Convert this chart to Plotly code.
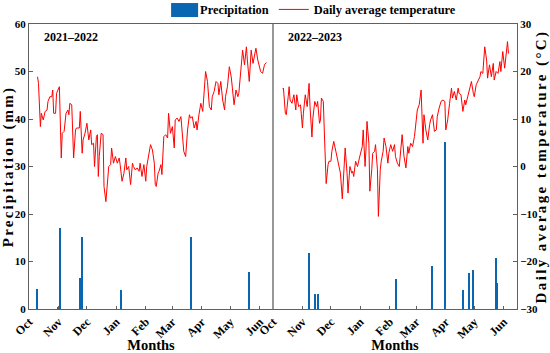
import plotly.graph_objects as go
import pandas as pd

# ---------------- data ----------------
season1_start = "2021-10-01"
season2_start = "2022-10-01"
season_labels = ["2021–2022", "2022–2023"]

# daily average temperature (°C), day offsets from 1 Oct
temp1_day = [9, 10, 12, 13, 15, 17, 19, 20, 22, 24, 25, 26, 28, 29, 32, 34, 35, 37, 39, 41,
             42, 43, 45, 47, 49, 50, 53, 54, 56, 57, 59, 61, 63, 65, 66, 68, 69, 71, 72, 73,
             74, 76, 78, 79, 81, 84, 86, 87, 89, 91, 93, 95, 96, 98, 100, 102, 103, 105, 107, 109,
             110, 112, 114, 116, 117, 119, 121, 123, 124, 126, 128, 130, 132, 133, 134, 136, 137, 139, 140, 142,
             144, 146, 147, 149, 151, 153, 154, 156, 158, 160, 162, 163, 165, 167, 169, 170, 172, 174, 176, 177,
             179, 181, 183, 184, 186, 188, 190, 192, 193, 195, 197, 199, 200, 202, 204, 206, 207, 209, 211, 213,
             214, 216, 218, 220, 221, 223, 225, 227, 229, 230, 232, 234, 236, 237, 239, 241, 243, 244, 246, 248,
             250]
temp1_val = [18.9, 17.5, 8.4, 11.2, 9.8, 11.6, 11.9, 13.7, 14.7, 14.7, 16.1, 11.2, 11.2, 15.4, 16.8, 1.8, 7.0, 7.4, 11.2, 11.9,
             10.9, 13.3, 13.0, 1.8, 7.7, 8.1, 8.1, 11.6, 2.8, 5.6, 7.0, 9.1, 5.6, 7.7, 4.6, 4.9, 0.0, 6.3, 6.7, -2.1,
             2.1, 7.0, 6.7, -4.2, -7.4, 0.0, 0.4, 3.9, 0.7, 2.1, 0.7, 1.8, 0.4, -3.1, -1.4, 1.8, -0.7, 0.0, -3.8, 0.7,
             0.0, -0.7, -0.3, -1.0, 0.7, -2.1, 0.4, -3.1, 0.0, 2.1, 4.6, 3.5, 0.7, -3.8, -4.2, -1.4, -1.0, 0.4, -1.7, 6.3,
             6.7, 6.0, 11.2, 7.0, 8.4, 3.9, 9.8, 10.2, 9.5, 10.5, 4.2, 3.2, 2.1, 7.7, 10.9, 10.2, 10.5, 8.1, 9.5, 7.7,
             10.9, 13.3, 11.6, 14.7, 20.0, 17.9, 12.6, 11.9, 14.7, 15.8, 17.9, 17.5, 15.1, 17.9, 14.0, 11.9, 14.7, 16.8, 21.0, 18.9,
             16.5, 13.0, 16.1, 14.7, 15.4, 21.0, 24.5, 21.4, 25.2, 22.4, 17.9, 24.5, 21.7, 22.8, 24.9, 22.4, 20.3, 20.0, 19.6, 21.4,
             21.9]

temp2_day = [10, 11, 13, 14, 16, 17, 18, 20, 22, 24, 25, 27, 29, 31, 32, 34, 36, 38, 39, 41,
             42, 44, 46, 47, 49, 50, 51, 53, 54, 55, 56, 58, 59, 61, 62, 64, 66, 68, 69, 71,
             73, 75, 76, 78, 79, 81, 83, 84, 85, 87, 89, 91, 92, 94, 95, 97, 98, 99, 101, 102,
             104, 105, 107, 108, 110, 111, 113, 114, 116, 117, 119, 121, 122, 124, 126, 128, 129, 131, 133, 135,
             136, 138, 140, 142, 143, 145, 147, 149, 151, 152, 154, 156, 158, 159, 161, 163, 165, 166, 168, 170,
             172, 173, 175, 177, 179, 181, 182, 184, 186, 188, 189, 191, 193, 195, 196, 198, 200, 202, 203, 205,
             207, 209, 211, 212, 214, 216, 218, 219, 221, 223, 225, 226, 228, 230, 232, 233, 235, 237, 239, 240,
             242, 244, 245, 247, 248]
temp2_val = [16.3, 16.5, 11.2, 10.9, 14.7, 16.8, 14.0, 13.3, 15.1, 11.9, 15.1, 12.6, 13.0, 8.1, 11.2, 15.1, 12.6, 17.5, 12.6, 6.2,
             10.2, 13.7, 12.6, 13.7, 9.1, 9.8, 14.4, 13.7, 7.7, 2.1, -3.6, 0.4, 1.1, 1.1, 3.2, 5.3, 3.5, 1.8, 1.1, -1.4,
             -6.8, -0.7, 3.9, -1.4, -5.6, 0.0, -1.4, -1.0, -2.1, 1.1, 0.0, 1.8, 2.5, 4.2, 7.7, 0.0, 3.9, 9.5, 4.9, -5.2,
             -0.7, 2.8, 3.2, 4.6, -0.7, -10.5, -0.7, 1.1, 3.2, 6.0, 4.2, 0.7, 2.8, 4.6, 3.2, 4.6, 2.1, 0.7, 0.0, 4.2,
             6.7, 2.1, -0.3, 4.2, 2.8, 4.9, 4.2, 6.3, 9.5, 11.9, 13.0, 16.1, 4.9, 10.9, 7.7, 5.6, 8.8, 9.8, 10.9, 7.4,
             7.7, 10.5, 12.3, 13.7, 14.0, 13.7, 7.7, 9.8, 13.3, 16.5, 14.4, 15.8, 14.0, 16.5, 15.4, 15.1, 11.6, 14.0, 13.0, 14.7,
             16.1, 17.9, 15.4, 14.7, 17.2, 17.9, 18.9, 20.0, 19.6, 25.2, 22.4, 18.6, 21.4, 18.9, 21.7, 18.2, 20.0, 19.6, 22.1, 20.0,
             24.2, 20.7, 22.8, 26.3, 23.8]

# daily precipitation (mm), day offsets from 1 Oct
prec1_day = [9, 31, 33, 54, 56, 97, 171, 232]
prec1_val = [4.2, 0.3, 17.1, 6.6, 15.2, 4.0, 15.2, 7.8]
prec2_day = [38, 45, 48, 130, 168, 181, 200, 207, 211, 235, 236]
prec2_val = [11.8, 3.2, 3.2, 6.3, 9.1, 35.1, 4.1, 7.5, 8.3, 10.8, 5.4]

# ---------------- figure ----------------
FONT = "Liberation Serif"
AX = "#606060"
BAR = "#0a66b0"
LINE = "#ff0000"


def dates(start, days):
    return pd.Timestamp(start) + pd.to_timedelta(days, unit="D")


def spaced(text, px):
    return '<span style="letter-spacing:%spx">%s</span>' % (px, text)


fig = go.Figure()
bar_w = 1.6 * 86400000

fig.add_trace(go.Bar(x=dates(season1_start, prec1_day), y=prec1_val, width=bar_w,
                     marker=dict(color=BAR, line=dict(width=0)), name="Precipitation",
                     xaxis="x", yaxis="y", legendrank=1))
fig.add_trace(go.Scatter(x=dates(season1_start, temp1_day), y=temp1_val, mode="lines",
                         line=dict(color=LINE, width=1), name="Daily average temperature",
                         xaxis="x", yaxis="y2", legendrank=2))
fig.add_trace(go.Bar(x=dates(season2_start, prec2_day), y=prec2_val, width=bar_w,
                     marker=dict(color=BAR, line=dict(width=0)), name="Precipitation",
                     xaxis="x2", yaxis="y", showlegend=False))
fig.add_trace(go.Scatter(x=dates(season2_start, temp2_day), y=temp2_val, mode="lines",
                         line=dict(color=LINE, width=1), name="Daily average temperature",
                         xaxis="x2", yaxis="y2", showlegend=False))

tickfont = dict(family=FONT, size=11, color="black", weight="bold")
xtickfont = dict(family=FONT, size=12, color="black", weight="bold")
xtitlefont = dict(family=FONT, size=14.5, color="black", weight="bold")
ytitlefont = dict(family=FONT, size=15, color="black", weight="bold")

xcommon = dict(type="date", dtick="M1", tickformat="%b", tickangle=-45,
               ticks="inside", ticklen=3, tickcolor=AX, showline=True, linecolor=AX,
               linewidth=1.3, mirror=True, showgrid=False, zeroline=False,
               tickfont=xtickfont, anchor="y", automargin=False,
               title=dict(text="Months", font=xtitlefont, standoff=3))

# paper coordinates of the enlarged legend swatch
sw_x0, sw_x1 = (171 - 29) / 487.7, (198 - 29) / 487.7
sw_y0, sw_y1 = (309.5 - 17) / 285.5, (309.5 - 3) / 285.5

fig.update_layout(
    width=550, height=353,
    margin=dict(l=29, r=33, t=24, b=43.5, autoexpand=False),
    paper_bgcolor="white", plot_bgcolor="white",
    bargap=0,
    xaxis=dict(domain=[0, 0.5], range=["2021-10-01", "2022-06-15"],
               tick0="2021-10-01", **xcommon),
    xaxis2=dict(domain=[0.5, 1], range=["2022-10-01", "2023-06-15"],
                tick0="2022-10-01", **xcommon),
    yaxis=dict(range=[0, 60], dtick=10, ticks="inside", ticklen=4, tickcolor=AX,
               showline=True, linecolor=AX, linewidth=1.3, showgrid=False, zeroline=False,
               anchor="x", side="left", tickfont=tickfont, automargin=False,
               title=dict(text=spaced("Precipitation (mm)", 2.2), font=ytitlefont, standoff=1)),
    yaxis2=dict(range=[-30, 30], dtick=10, ticks="inside", ticklen=4, tickcolor=AX,
                showline=True, linecolor=AX, linewidth=1.3, showgrid=False, zeroline=False,
                overlaying="y", anchor="x2", side="right", tickfont=tickfont, automargin=False,
                title=dict(text=spaced("Daily average temperature (°C)", 2.4), font=ytitlefont,
                           standoff=4)),
    legend=dict(orientation="h", x=(160 - 29) / 487.7, xanchor="left", y=0.997, yanchor="bottom",
                font=dict(family=FONT, size=12.4, color="black", weight="bold"),
                bgcolor="rgba(0,0,0,0)", itemwidth=30, traceorder="normal"),
    shapes=[dict(type="line", xref="paper", yref="paper", x0=0.5, x1=0.5, y0=0, y1=1,
                 line=dict(color=AX, width=1.3)),
            dict(type="rect", xref="paper", yref="paper", x0=sw_x0, x1=sw_x1, y0=sw_y0, y1=sw_y1,
                 fillcolor=BAR, line=dict(width=0), layer="above")],
    annotations=[
        dict(text=season_labels[0], xref="paper", yref="paper", x=0.026, y=0.953,
             xanchor="left", yanchor="middle", showarrow=False,
             font=dict(family=FONT, size=12, color="black", weight="bold")),
        dict(text=season_labels[1], xref="paper", yref="paper", x=0.527, y=0.953,
             xanchor="left", yanchor="middle", showarrow=False,
             font=dict(family=FONT, size=12, color="black", weight="bold")),
    ],
)

fig.write_html("out.html", config={"displayModeBar": False},
               post_script="document.body.style.margin='0';")
